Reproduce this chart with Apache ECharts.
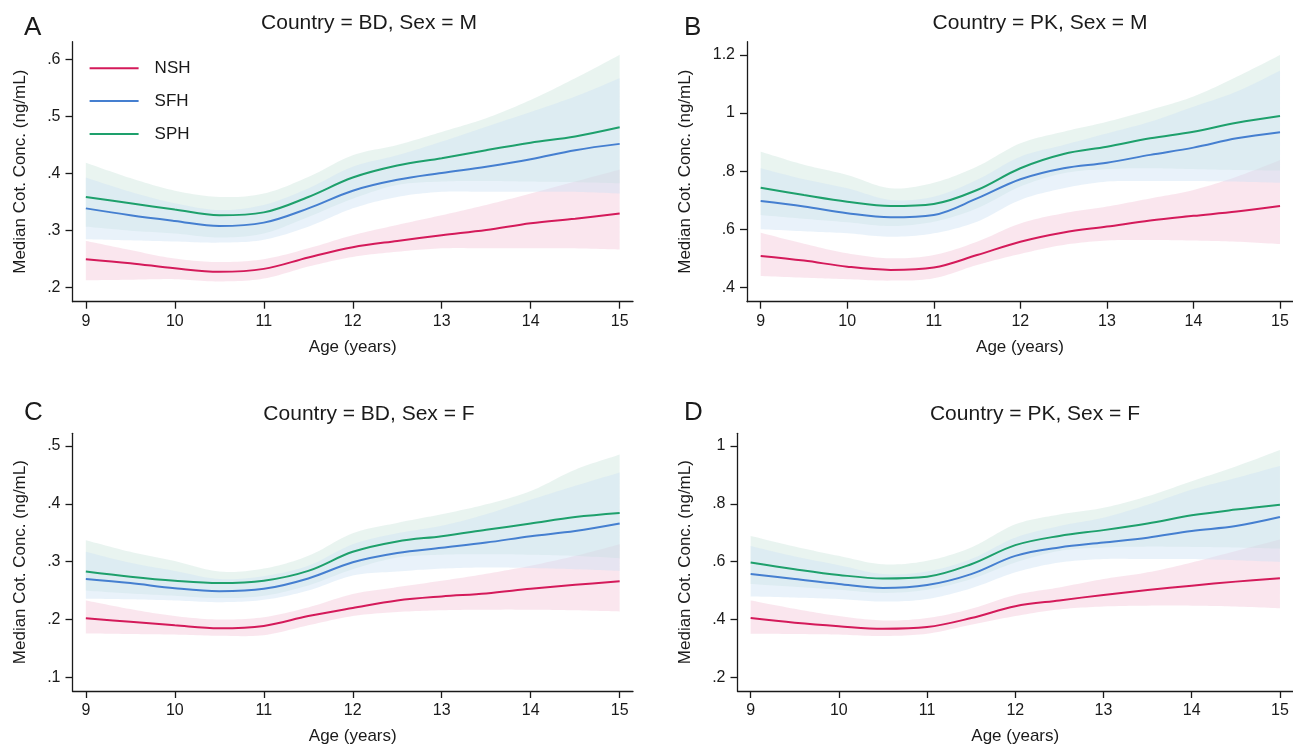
<!DOCTYPE html>
<html>
<head>
<meta charset="utf-8">
<script src="https://cdn.jsdelivr.net/npm/echarts@6/dist/echarts.min.js"></script>
<style>html,body{margin:0;padding:0;background:#fff}#c{width:1293px;height:746px}</style>
</head>
<body>
<div id="c"></div>
<script>
// ---------- data ----------
const AGE = [9, 9.5, 10, 10.5, 11, 11.5, 12, 12.5, 13, 13.5, 14, 14.5, 15];
const X_TICKS = [9, 10, 11, 12, 13, 14, 15];
const GROUPS = ['NSH', 'SFH', 'SPH'];
const BAND_ORDER = ['NSH', 'SPH', 'SFH'];

// Panel A: Country = BD, Sex = M
const A_NSH    = [0.250,0.243,0.234,0.228,0.233,0.253,0.271,0.282,0.292,0.301,0.313,0.321,0.330];
const A_NSH_LO = [0.213,0.214,0.215,0.211,0.216,0.237,0.254,0.263,0.269,0.269,0.269,0.269,0.267];
const A_NSH_HI = [0.282,0.266,0.251,0.245,0.250,0.269,0.292,0.310,0.327,0.345,0.365,0.386,0.407];
const A_SFH    = [0.339,0.327,0.317,0.308,0.314,0.339,0.370,0.389,0.401,0.412,0.425,0.441,0.452];
const A_SFH_LO = [0.285,0.283,0.281,0.279,0.284,0.307,0.339,0.359,0.368,0.368,0.368,0.368,0.365];
const A_SFH_HI = [0.393,0.368,0.348,0.336,0.345,0.374,0.412,0.432,0.456,0.482,0.508,0.535,0.567];
const A_SPH    = [0.359,0.348,0.337,0.327,0.332,0.359,0.393,0.414,0.427,0.441,0.454,0.465,0.481];
const A_SPH_LO = [0.307,0.300,0.295,0.288,0.295,0.324,0.356,0.380,0.386,0.387,0.386,0.385,0.383];
const A_SPH_HI = [0.419,0.392,0.370,0.359,0.365,0.394,0.432,0.450,0.473,0.497,0.529,0.567,0.608];
const A_YTICKS = [0.2, 0.3, 0.4, 0.5, 0.6];

// Panel B: Country = PK, Sex = M
const B_NSH    = [0.508,0.492,0.471,0.460,0.468,0.511,0.557,0.589,0.609,0.630,0.646,0.661,0.680];
const B_NSH_LO = [0.439,0.433,0.428,0.423,0.431,0.477,0.515,0.546,0.561,0.563,0.561,0.557,0.549];
const B_NSH_HI = [0.588,0.550,0.517,0.500,0.511,0.557,0.620,0.655,0.678,0.706,0.735,0.781,0.838];
const B_SFH    = [0.697,0.678,0.655,0.641,0.649,0.706,0.772,0.810,0.829,0.856,0.881,0.913,0.934];
const B_SFH_LO = [0.600,0.593,0.586,0.574,0.586,0.626,0.701,0.741,0.764,0.766,0.766,0.764,0.760];
const B_SFH_HI = [0.810,0.772,0.741,0.701,0.712,0.770,0.850,0.890,0.930,0.970,1.022,1.074,1.146];
const B_SPH    = [0.743,0.718,0.695,0.680,0.687,0.735,0.810,0.859,0.884,0.913,0.936,0.967,0.990];
const B_SPH_LO = [0.649,0.636,0.624,0.611,0.626,0.672,0.747,0.793,0.807,0.810,0.807,0.804,0.802];
const B_SPH_HI = [0.867,0.822,0.787,0.741,0.760,0.816,0.896,0.936,0.970,1.011,1.057,1.125,1.200];
const B_YTICKS = [0.4, 0.6, 0.8, 1, 1.2];

// Panel C: Country = BD, Sex = F
const C_NSH    = [0.202,0.196,0.190,0.185,0.189,0.206,0.220,0.233,0.240,0.245,0.253,0.260,0.266];
const C_NSH_LO = [0.176,0.175,0.174,0.172,0.173,0.190,0.206,0.213,0.216,0.217,0.217,0.216,0.214];
const C_NSH_HI = [0.233,0.218,0.206,0.200,0.204,0.221,0.244,0.256,0.267,0.279,0.293,0.310,0.330];
const C_SFH    = [0.270,0.263,0.254,0.249,0.253,0.271,0.299,0.315,0.324,0.333,0.344,0.353,0.366];
const C_SFH_LO = [0.236,0.235,0.233,0.230,0.234,0.250,0.276,0.283,0.288,0.290,0.289,0.287,0.284];
const C_SFH_HI = [0.317,0.298,0.284,0.270,0.275,0.293,0.330,0.349,0.362,0.382,0.407,0.431,0.454];
const C_SPH    = [0.283,0.274,0.267,0.263,0.267,0.284,0.317,0.335,0.344,0.355,0.366,0.377,0.384];
const C_SPH_LO = [0.250,0.245,0.241,0.237,0.241,0.259,0.287,0.307,0.312,0.313,0.312,0.310,0.306];
const C_SPH_HI = [0.337,0.317,0.301,0.283,0.288,0.310,0.349,0.367,0.382,0.399,0.422,0.459,0.485];
const C_YTICKS = [0.1, 0.2, 0.3, 0.4, 0.5];

// Panel D: Country = PK, Sex = F
const D_NSH    = [0.405,0.389,0.377,0.368,0.374,0.405,0.446,0.466,0.485,0.502,0.517,0.531,0.543];
const D_NSH_LO = [0.351,0.350,0.348,0.343,0.351,0.382,0.412,0.435,0.445,0.448,0.448,0.445,0.439];
const D_NSH_HI = [0.466,0.437,0.412,0.397,0.405,0.437,0.485,0.511,0.540,0.563,0.597,0.637,0.677];
const D_SFH    = [0.557,0.540,0.523,0.509,0.519,0.557,0.620,0.649,0.666,0.683,0.706,0.723,0.754];
const D_SFH_LO = [0.480,0.476,0.471,0.462,0.471,0.508,0.563,0.597,0.609,0.609,0.609,0.605,0.599];
const D_SFH_HI = [0.654,0.618,0.588,0.557,0.566,0.609,0.683,0.723,0.752,0.797,0.849,0.889,0.931];
const D_SPH    = [0.597,0.574,0.554,0.542,0.548,0.591,0.657,0.689,0.709,0.732,0.760,0.780,0.797];
const D_SPH_LO = [0.523,0.513,0.503,0.492,0.503,0.540,0.597,0.637,0.649,0.652,0.651,0.649,0.645];
const D_SPH_HI = [0.689,0.652,0.620,0.591,0.603,0.649,0.729,0.763,0.786,0.826,0.878,0.929,0.986];
const D_YTICKS = [0.2, 0.4, 0.6, 0.8, 1];

const PANEL_LETTERS = ['A', 'B', 'C', 'D'];
const PANEL_TITLES = ['Country = BD, Sex = M', 'Country = PK, Sex = M', 'Country = BD, Sex = F', 'Country = PK, Sex = F'];
const X_NAME = 'Age (years)';
const Y_NAME = 'Median Cot. Conc. (ng/mL)';

// ---------- styling / layout ----------
const FONT = 'Liberation Sans, Arial, sans-serif';
const INK = '#1a1a1a';
const LINE_COLORS = {NSH: '#d41a5a', SFH: '#457fd0', SPH: '#1ea06c'};
const BAND_COLORS = {NSH: 'rgba(238,172,198,0.30)', SFH: 'rgba(206,226,244,0.45)', SPH: 'rgba(182,218,205,0.30)'};

const DATA = [
  {NSH: [A_NSH, A_NSH_LO, A_NSH_HI], SFH: [A_SFH, A_SFH_LO, A_SFH_HI], SPH: [A_SPH, A_SPH_LO, A_SPH_HI], ticks: A_YTICKS},
  {NSH: [B_NSH, B_NSH_LO, B_NSH_HI], SFH: [B_SFH, B_SFH_LO, B_SFH_HI], SPH: [B_SPH, B_SPH_LO, B_SPH_HI], ticks: B_YTICKS},
  {NSH: [C_NSH, C_NSH_LO, C_NSH_HI], SFH: [C_SFH, C_SFH_LO, C_SFH_HI], SPH: [C_SPH, C_SPH_LO, C_SPH_HI], ticks: C_YTICKS},
  {NSH: [D_NSH, D_NSH_LO, D_NSH_HI], SFH: [D_SFH, D_SFH_LO, D_SFH_HI], SPH: [D_SPH, D_SPH_LO, D_SPH_HI], ticks: D_YTICKS}
];
const LAYOUT = [
  {left: 72.5, top: 41.7, width: 560.5, height: 260, xmin: 8.85, xmax: 15.15, ymin: 0.1755, ymax: 0.631, nameGap: 44, tx: 369, ty: 13, lx: 24, ly: 15},
  {left: 747, top: 41.7, width: 552, height: 260, xmin: 8.842, xmax: 15.15, ymin: 0.3504, ymax: 1.2458, nameGap: 53.5, tx: 1040, ty: 13, lx: 684, ly: 15},
  {left: 72.5, top: 433.3, width: 560.5, height: 259.4, xmin: 8.85, xmax: 15.15, ymin: 0.0765, ymax: 0.5218, nameGap: 44, tx: 369, ty: 404, lx: 24, ly: 400},
  {left: 737.5, top: 433.3, width: 561.5, height: 259.4, xmin: 8.851, xmax: 15.148, ymin: 0.153, ymax: 1.0436, nameGap: 44, tx: 1035, ty: 404, lx: 684, ly: 400}
];

function fmtY(v) {
  return String(+v.toFixed(2)).replace(/^0\./, '.');
}
function pairs(arr) { return AGE.map((a, i) => [a, arr[i]]); }

// Catmull-Rom smoothing of already-projected pixel points (drawing only)
function smoothPts(pts, steps) {
  const out = [];
  const n = pts.length;
  for (let i = 0; i < n - 1; i++) {
    const p0 = pts[Math.max(i - 1, 0)], p1 = pts[i], p2 = pts[i + 1], p3 = pts[Math.min(i + 2, n - 1)];
    for (let s = 0; s < steps; s++) {
      const t = s / steps, t2 = t * t, t3 = t2 * t;
      const f = (a, b, c, d) => 0.5 * ((2 * b) + (-a + c) * t + (2 * a - 5 * b + 4 * c - d) * t2 + (-a + 3 * b - 3 * c + d) * t3);
      out.push([f(p0[0], p1[0], p2[0], p3[0]), f(p0[1], p1[1], p2[1], p3[1])]);
    }
  }
  out.push(pts[n - 1]);
  return out;
}

function bandRenderer(color) {
  return function (params, api) {
    if (params.dataIndexInside !== 0) return null;
    const len = params.dataInsideLength;
    const top = [], bot = [];
    for (let i = 0; i < len; i++) {
      const x = api.value(0, i);
      top.push(api.coord([x, api.value(2, i)]));
      bot.push(api.coord([x, api.value(1, i)]));
    }
    const pts = smoothPts(top, 12).concat(smoothPts(bot, 12).reverse());
    return {type: 'polygon', shape: {points: pts}, style: {fill: color, stroke: null}, silent: true};
  };
}

const grid = [], xAxis = [], yAxis = [], series = [], title = [];
LAYOUT.forEach((L, p) => {
  grid.push({left: L.left, top: L.top, width: L.width, height: L.height, containLabel: false});
  const axisCommon = {
    axisLine: {show: true, onZero: false, lineStyle: {color: INK, width: 1.3}},
    axisTick: {show: true, inside: false, length: 7, lineStyle: {color: INK, width: 1.3}},
    splitLine: {show: false},
    nameTextStyle: {color: INK, fontFamily: FONT, fontSize: 17}
  };
  xAxis.push(Object.assign({}, axisCommon, {
    type: 'value', gridIndex: p, min: L.xmin, max: L.xmax,
    name: X_NAME, nameLocation: 'middle', nameGap: 37,
    axisTick: Object.assign({}, axisCommon.axisTick, {customValues: X_TICKS}),
    axisLabel: {customValues: X_TICKS, color: INK, fontFamily: FONT, fontSize: 16, margin: 12, formatter: v => String(v)}
  }));
  yAxis.push(Object.assign({}, axisCommon, {
    type: 'value', gridIndex: p, min: L.ymin, max: L.ymax,
    name: Y_NAME, nameLocation: 'middle', nameGap: L.nameGap, nameRotate: 90,
    axisTick: Object.assign({}, axisCommon.axisTick, {customValues: DATA[p].ticks}),
    axisLabel: {customValues: DATA[p].ticks, color: INK, fontFamily: FONT, fontSize: 16, margin: 12, formatter: fmtY}
  }));
  title.push({text: PANEL_TITLES[p], left: L.tx, top: L.ty, textAlign: 'center', padding: 0,
    textStyle: {color: INK, fontFamily: FONT, fontSize: 21, fontWeight: 'normal'}});
  title.push({text: PANEL_LETTERS[p], left: L.lx, top: L.ly, padding: 0,
    textStyle: {color: INK, fontFamily: FONT, fontSize: 26, fontWeight: 'normal'}});

  // confidence bands
  BAND_ORDER.forEach(g => {
    const [mid, lo, hi] = DATA[p][g];
    series.push({
      type: 'custom', name: g + ' band', coordinateSystem: 'cartesian2d', xAxisIndex: p, yAxisIndex: p,
      data: AGE.map((a, i) => [a, lo[i], hi[i]]),
      encode: {x: 0, y: [1, 2]},
      renderItem: bandRenderer(BAND_COLORS[g]), silent: true, z: 1
    });
  });
  // median lines
  GROUPS.forEach(g => {
    const [mid] = DATA[p][g];
    series.push({
      type: 'line', name: g, xAxisIndex: p, yAxisIndex: p,
      data: pairs(mid), symbol: 'none', showSymbol: false, smooth: 0.35,
      lineStyle: {color: LINE_COLORS[g], width: 2}, itemStyle: {color: LINE_COLORS[g]}, z: 3
    });
  });
});

const chart = echarts.init(document.getElementById('c'), null, {renderer: 'canvas'});
chart.setOption({
  animation: false,
  backgroundColor: '#fff',
  title: title,
  grid: grid,
  xAxis: xAxis,
  yAxis: yAxis,
  legend: {
    data: GROUPS.map(g => ({name: g, icon: 'rect'})), orient: 'vertical', left: 89.6, top: 59.8,
    itemWidth: 49, itemHeight: 2, itemGap: 15.8, padding: 0,
    textStyle: {color: INK, fontFamily: FONT, fontSize: 17, padding: [0, 0, 0, 11]}
  },
  series: series
});
</script>
</body>
</html>
